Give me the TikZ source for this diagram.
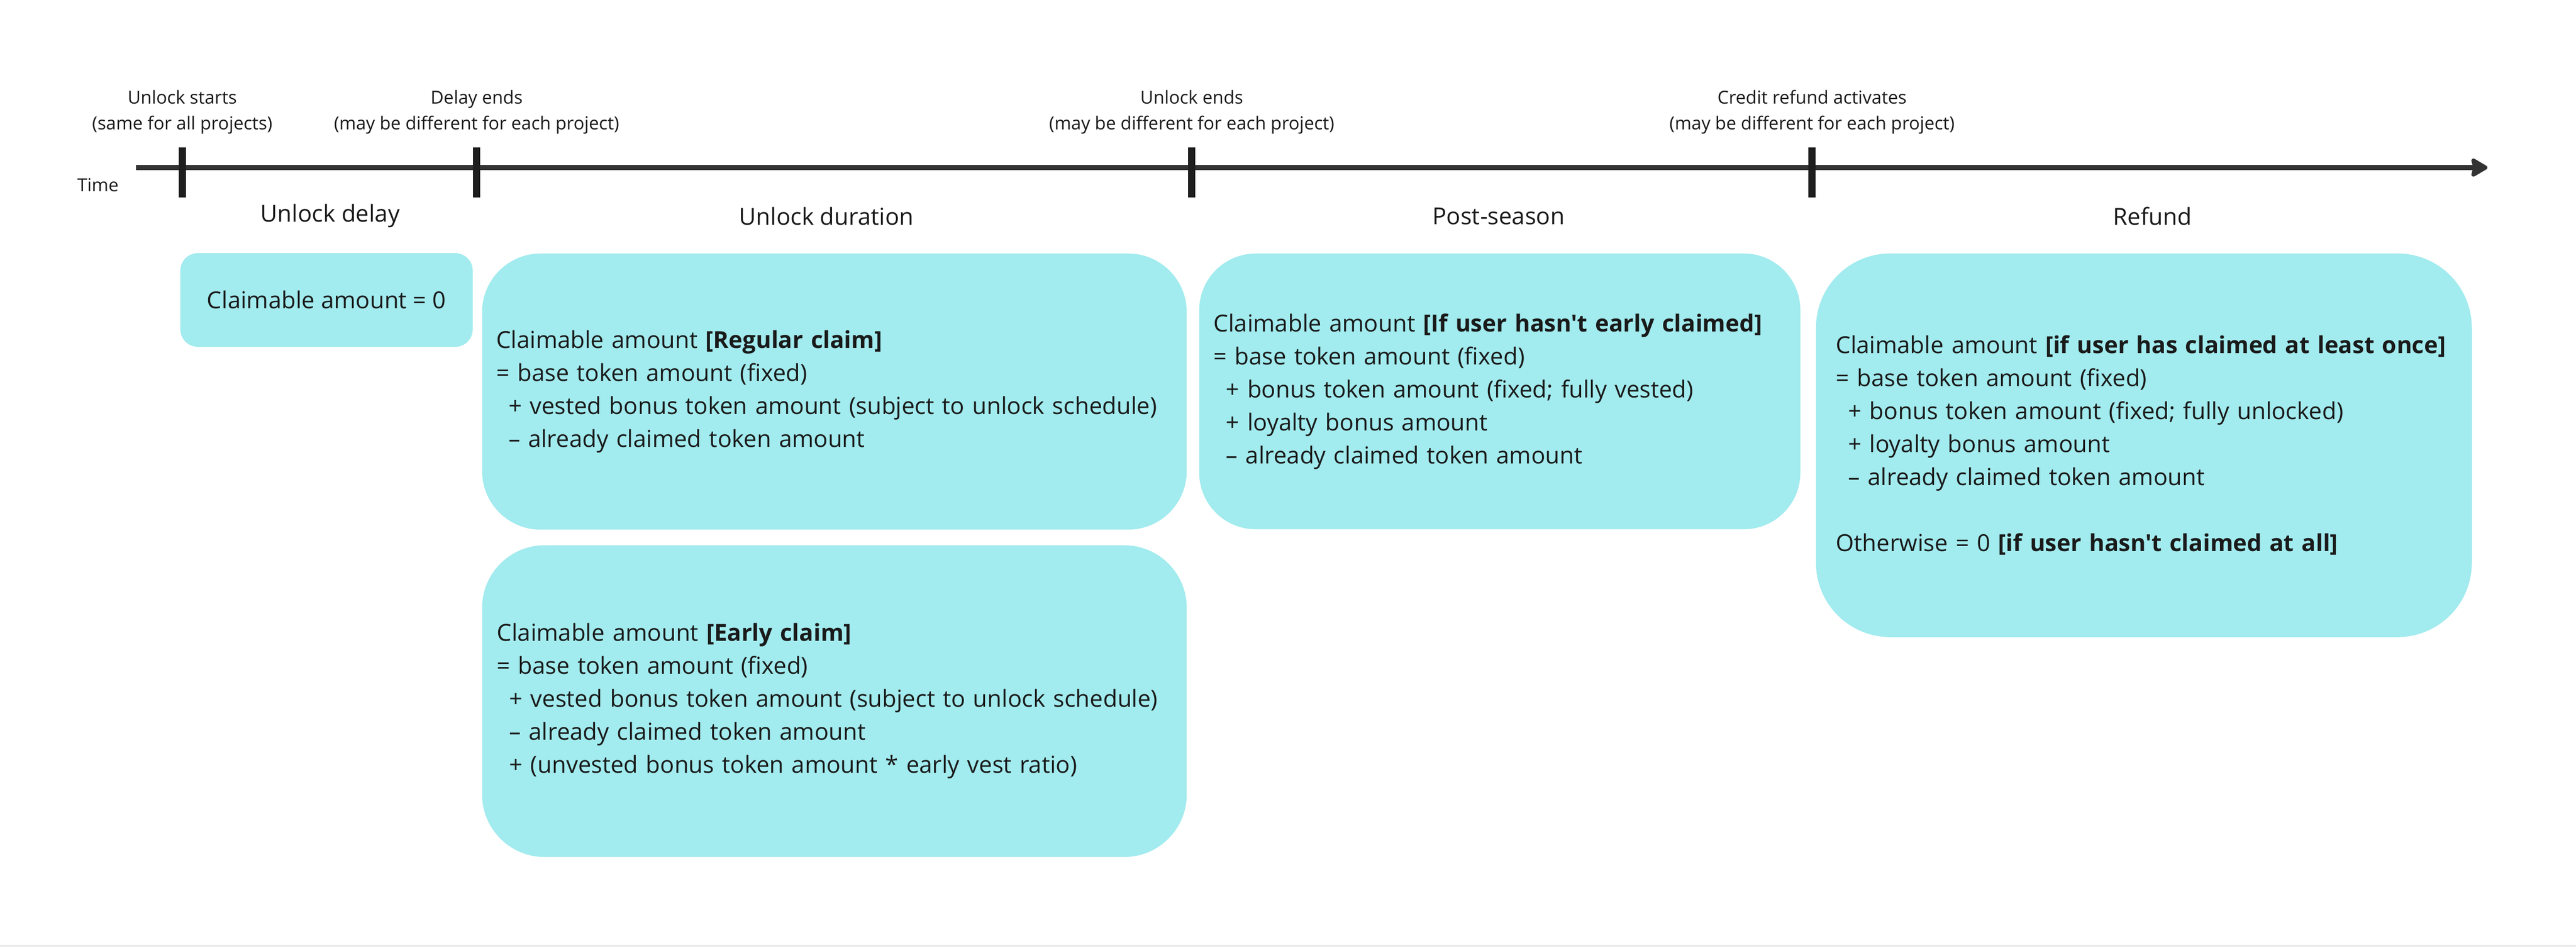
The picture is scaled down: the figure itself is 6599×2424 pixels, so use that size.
\documentclass[tikz,border=0pt]{standalone}
\usepackage{fontspec}
\setmainfont{Open Sans}[Ligatures=TeXOff]
\usetikzlibrary{arrows.meta}
\definecolor{boxfill}{HTML}{A2EBEE}
\definecolor{axisc}{HTML}{333333}
\definecolor{tickc}{HTML}{1E1E1E}
\definecolor{txtc}{HTML}{1A1A1A}
\newcommand\ind{\hspace*{6.4pt}}
\begin{document}
\begin{tikzpicture}[x=0.2pt,y=-0.2pt,
  small/.style={font=\fontsize{9.2}{13.2}\selectfont, text=txtc, align=center, inner sep=0pt},
  phase/.style={font=\fontsize{12}{16.9}\selectfont, text=txtc, inner sep=0pt},
  cbox/.style={fill=boxfill, draw=none, anchor=north west, align=left,
    font=\fontsize{12}{16.9}\selectfont, text=txtc, inner ysep=0pt},
  axisline/.style={draw=axisc, line width=2.8pt},
  tickline/.style={draw=tickc, line width=3.6pt}]
\useasboundingbox (0,0) rectangle (6599,2424);
\fill[black!7] (0,2419) rectangle (6599,2424);
% timeline
\coordinate (tstart) at (349,429);
\coordinate (tend) at (6372,429);
\draw[axisline, -{Stealth[length=9.6pt,width=11pt,inset=1.2pt,round]}] (tstart) -- (tend);
% ticks
\coordinate (k1a) at (467,378); \coordinate (k1b) at (467,506);
\coordinate (k2a) at (1221,378); \coordinate (k2b) at (1221,506);
\coordinate (k3a) at (3053,378); \coordinate (k3b) at (3053,506);
\coordinate (k4a) at (4642,378); \coordinate (k4b) at (4642,506);
\draw[tickline] (k1a) -- (k1b);
\draw[tickline] (k2a) -- (k2b);
\draw[tickline] (k3a) -- (k3b);
\draw[tickline] (k4a) -- (k4b);
% labels above
\node[small] (l1) at (467,287) {Unlock starts\\(same for all projects)};
\node[small] (l2) at (1221,287) {Delay ends\\(may be different for each project)};
\node[small] (l3) at (3053,287) {Unlock ends\\(may be different for each project)};
\node[small] (l4) at (4642,287) {Credit refund activates\\(may be different for each project)};
\node[small] (time) at (251,474) {Time};
% phase names
\node[phase] (p1) at (846,553) {Unlock delay};
\node[phase] (p2) at (2117,553) {Unlock duration};
\node[phase] (p3) at (3839,553) {Post-season};
\node[phase] (p4) at (5514,553) {Refund};
% boxes
\node[cbox, align=center, minimum width=149.8pt, minimum height=48pt, rounded corners=9pt] (b0) at (461,647) {Claimable amount = 0};
\node[cbox, text width=346.6pt, inner xsep=7.2pt, minimum height=141.4pt, rounded corners=30pt] (reg) at (1234,648)
 {Claimable amount \textbf{[Regular claim]}\\
  = base token amount (fixed)\\
  \ind+ vested bonus token amount (subject to unlock schedule)\\
  \ind– already claimed token amount};
\node[cbox, text width=345.8pt, inner xsep=7.6pt, minimum height=159.6pt, rounded corners=32pt] (early) at (1234,1395)
 {Claimable amount \textbf{[Early claim]}\\
  = base token amount (fixed)\\
  \ind+ vested bonus token amount (subject to unlock schedule)\\
  \ind– already claimed token amount\\
  \ind+ (unvested bonus token amount * early vest ratio)};
\node[cbox, text width=293.2pt, inner xsep=7.4pt, minimum height=141.2pt, rounded corners=29pt] (post) at (3071,648)
 {Claimable amount \textbf{[If user hasn't early claimed]}\\
  = base token amount (fixed)\\
  \ind+ bonus token amount (fixed; fully vested)\\
  \ind+ loyalty bonus amount\\
  \ind– already claimed token amount};
\node[cbox, text width=315.6pt, inner xsep=10.2pt, minimum height=196.4pt, rounded corners=38pt] (refund) at (4651,648)
 {Claimable amount \textbf{[if user has claimed at least once]}\\
  = base token amount (fixed)\\
  \ind+ bonus token amount (fixed; fully unlocked)\\
  \ind+ loyalty bonus amount\\
  \ind– already claimed token amount\\[16.9pt]
  Otherwise = 0 \textbf{[if user hasn't claimed at all]}};
\end{tikzpicture}
\end{document}
